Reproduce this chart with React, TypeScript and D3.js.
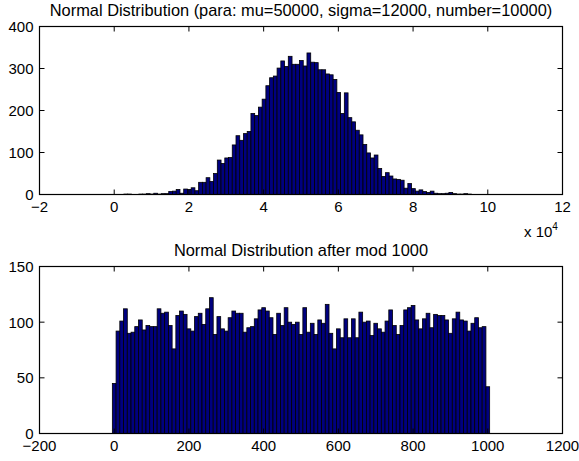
import * as d3 from "d3";

// top panel: counts per 1000-wide bin, first bin starts at 2600
const topCounts = [
  1, 1, 0, 0, 1, 1, 2, 1, 3, 1, 2, 2, 7, 8, 12, 3, 13, 12, 16, 9,
  29, 29, 40, 31, 50, 82, 74, 87, 88, 118, 140, 129, 145, 150, 193, 188, 208, 227, 259, 278,
  282, 301, 318, 305, 329, 310, 310, 319, 306, 337, 315, 314, 297, 297, 287, 285, 274, 243, 193, 242,
  183, 173, 153, 142, 119, 99, 87, 94, 62, 43, 52, 44, 37, 36, 34, 15, 26, 14, 8, 11,
  7, 5, 8, 3, 2, 2, 3, 5, 2, 1, 1, 2, 1,
];
const topBinStart = 2600;
const topBinWidth = 1000;
const topXTicks = [-2, 0, 2, 4, 6, 8, 10, 12];
const topYTicks = [0, 100, 200, 300, 400];

// bottom panel: counts for bins centred at 0, 10, ..., 1000
const bottomCounts = [
  45, 92, 101, 112, 90, 91, 96, 102, 93, 97, 96, 96, 112, 108, 109, 97, 76, 106, 110, 107,
  94, 92, 105, 108, 98, 112, 122, 89, 105, 94, 92, 104, 110, 108, 108, 91, 95, 96, 103, 111,
  113, 110, 104, 89, 108, 97, 113, 100, 98, 100, 89, 113, 91, 99, 89, 102, 99, 116, 90, 76,
  94, 86, 103, 86, 103, 86, 109, 100, 101, 88, 99, 94, 91, 101, 111, 97, 89, 97, 111, 113,
  115, 102, 94, 103, 108, 95, 107, 106, 106, 102, 90, 103, 109, 102, 101, 92, 99, 104, 95, 96,
  42,
];
const bottomBinWidth = 10;
const bottomXTicks = [-200, 0, 200, 400, 600, 800, 1000, 1200];
const bottomYTicks = [0, 50, 100, 150];

const W = 579;
const H = 461;
const FONT = "'Liberation Sans', Arial, Helvetica, sans-serif";
const TICK = 5;
const BAR_FILL = "#00007f";
const TICK_FONT = 15;
const TITLE_FONT = 16.4;

type PanelProps = {
  top: number;
  bottom: number;
  left: number;
  right: number;
  xDomain: [number, number];
  yDomain: [number, number];
  xTicks: number[];
  yTicks: number[];
  xLabel: (v: number) => string;
  bars: { x0: number; x1: number; v: number }[];
  title: string;
  titleY: number;
};

const fmt = (v: number) => (v < 0 ? "\u2212" + Math.abs(v) : String(v));

function Panel(p: PanelProps) {
  const x = d3.scaleLinear().domain(p.xDomain).range([p.left, p.right]);
  const y = d3.scaleLinear().domain(p.yDomain).range([p.bottom, p.top]);
  return (
    <g>
      <text x={(p.left + p.right) / 2} y={p.titleY} textAnchor="middle" fontSize={TITLE_FONT}>
        {p.title}
      </text>
      {p.bars.map((b, i) => (
        <rect
          key={i}
          x={x(b.x0)}
          y={y(b.v)}
          width={x(b.x1) - x(b.x0)}
          height={y(0) - y(b.v)}
          fill={BAR_FILL}
          stroke="#000"
          strokeWidth={0.8}
        />
      ))}
      <rect
        x={p.left}
        y={p.top}
        width={p.right - p.left}
        height={p.bottom - p.top}
        fill="none"
        stroke="#000"
        strokeWidth={1.2}
      />
      {p.xTicks.map((t) => (
        <g key={"x" + t}>
          <line x1={x(t)} x2={x(t)} y1={p.bottom} y2={p.bottom - TICK} stroke="#000" />
          <line x1={x(t)} x2={x(t)} y1={p.top} y2={p.top + TICK} stroke="#000" />
          <text x={x(t)} y={p.bottom + 17.5} textAnchor="middle" fontSize={TICK_FONT}>
            {p.xLabel(t)}
          </text>
        </g>
      ))}
      {p.yTicks.map((t) => (
        <g key={"y" + t}>
          <line x1={p.left} x2={p.left + TICK} y1={y(t)} y2={y(t)} stroke="#000" />
          <line x1={p.right} x2={p.right - TICK} y1={y(t)} y2={y(t)} stroke="#000" />
          <text x={p.left - 6} y={y(t) + 5.5} textAnchor="end" fontSize={TICK_FONT}>
            {fmt(t)}
          </text>
        </g>
      ))}
    </g>
  );
}

export default function App() {
  const topBars = topCounts.map((v, i) => ({
    x0: topBinStart + i * topBinWidth,
    x1: topBinStart + (i + 1) * topBinWidth,
    v,
  }));
  const bottomBars = bottomCounts.map((v, i) => ({
    x0: i * bottomBinWidth - bottomBinWidth / 2,
    x1: i * bottomBinWidth + bottomBinWidth / 2,
    v,
  }));
  return (
    <svg
      width={W}
      height={H}
      style={{ position: "absolute", left: 0, top: 0, background: "#fff" }}
      fontFamily={FONT}
    >
      <Panel
        top={26.5}
        bottom={194.5}
        left={39.5}
        right={562.5}
        xDomain={[-20000, 120000]}
        yDomain={[0, 400]}
        xTicks={topXTicks.map((t) => t * 10000)}
        yTicks={topYTicks}
        xLabel={(v) => fmt(v / 10000)}
        bars={topBars}
        title="Normal Distribution (para: mu=50000, sigma=12000, number=10000)"
        titleY={16}
      />
      <text x={524} y={237} fontSize={TICK_FONT}>
        x 10
        <tspan dy={-7} fontSize={10}>
          4
        </tspan>
      </text>
      <Panel
        top={266.5}
        bottom={433.5}
        left={39.5}
        right={562.5}
        xDomain={[-200, 1200]}
        yDomain={[0, 150]}
        xTicks={bottomXTicks}
        yTicks={bottomYTicks}
        xLabel={fmt}
        bars={bottomBars}
        title="Normal Distribution after mod 1000"
        titleY={256}
      />
    </svg>
  );
}
